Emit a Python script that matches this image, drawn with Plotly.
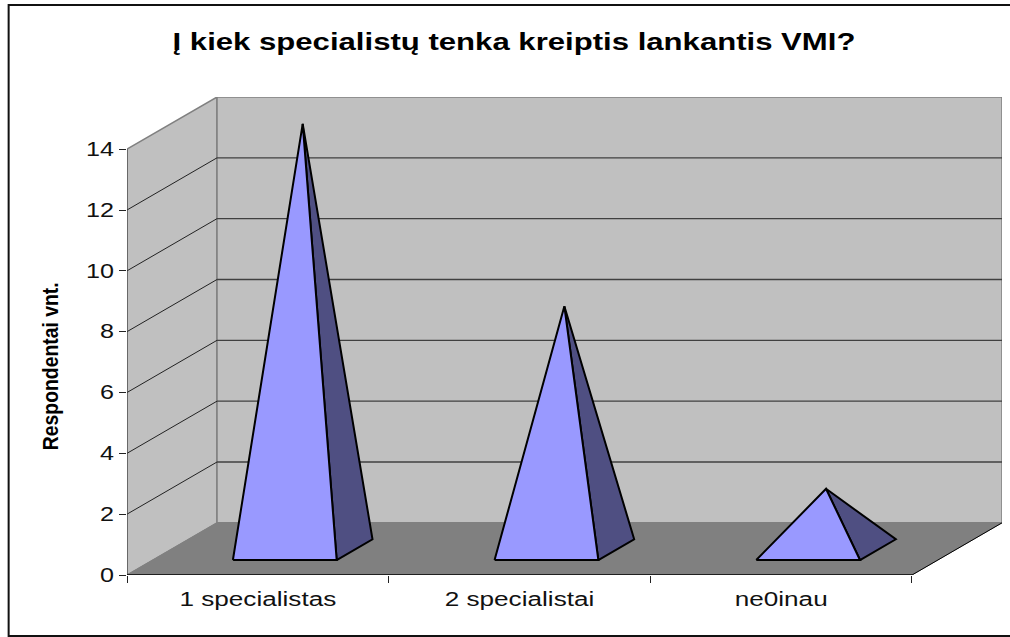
import plotly.graph_objects as go

# --- data ---
categories = ["1 specialistas", "2 specialistai", "ne0inau"]
values = [14, 8, 2]
y_ticks = [0, 2, 4, 6, 8, 10, 12, 14]
title_text = "Į kiek specialistų tenka kreiptis lankantis VMI?"
y_title = "Respondentai vnt."

# --- oblique 3D look (styles / layout only) ---
W, H = 1010, 637
L, R, T, B = 126.5, 1002.5, 97, 575      # plot box in pixels
N = len(categories)
YMAX = max(y_ticks)
DEPTH_X = 0.344                          # depth shift in category units
DEPTH_Y = 1.715                          # depth shift in value units
WALL, FLOOR = "#c0c0c0", "#808080"
FRONT, SIDE = "#9999ff", "#4f4f82"


def proj(x, y, d):
    """Oblique projection of (category pos, value, depth 0..1) to axis coords."""
    return x + d * DEPTH_X, y + d * DEPTH_Y


def poly(pts, fill=None, color="black", width=1.0):
    xs, ys = zip(*pts)
    fig.add_trace(go.Scatter(
        x=list(xs), y=list(ys), mode="lines", hoverinfo="skip", showlegend=False,
        fill="toself" if fill else None, fillcolor=fill,
        line=dict(color=color, width=width),
    ))


fig = go.Figure()

# walls and floor
poly([proj(0, 0, 0), proj(0, YMAX, 0), proj(0, YMAX, 1), proj(0, 0, 1), proj(0, 0, 0)], WALL, FLOOR, 1.5)
poly([proj(0, 0, 1), proj(0, YMAX, 1), proj(N, YMAX, 1), proj(N, 0, 1), proj(0, 0, 1)], WALL, FLOOR, 1.5)
poly([proj(0, 0, 0), proj(0, 0, 1), proj(N, 0, 1), proj(N, 0, 0), proj(0, 0, 0)], FLOOR, FLOOR, 1)

# gridlines
for v in y_ticks[1:-1]:
    poly([proj(0, v, 0), proj(0, v, 1)], color="#222222", width=1)
    poly([proj(0, v, 1), proj(N, v, 1)], color="#404040", width=1.3)

# floor outer edges and axis lines
poly([proj(N, 0, 0), proj(N, 0, 1)], color="black", width=1)
poly([proj(0, 0, 0), proj(0, YMAX, 0)], color="#404040", width=1)
poly([proj(0, 0, 0), proj(N, 0, 0)], color="black", width=1.5)

# pyramids
D0, D1 = 0.287, 0.685     # base depth extent
X0, X1 = 0.306, 0.7026    # base extent within a category
for i, v in enumerate(values):
    dc = (D0 + D1) / 2
    apex = proj(i + (X0 + X1) / 2, v, dc)
    fl, fr = proj(i + X0, 0, D0), proj(i + X1, 0, D0)
    br = proj(i + X1, 0, D1)
    poly([fr, br, apex, fr], SIDE, "black", 2)
    poly([fl, fr, apex, fl], FRONT, "black", 2)

fig.update_layout(
    width=W, height=H, autosize=False,
    margin=dict(l=L, r=W - R, t=T, b=H - B, pad=0),
    paper_bgcolor="white", plot_bgcolor="white", showlegend=False,
    font=dict(family="Liberation Sans, Arial, sans-serif", color="black"),
    title=dict(text=title_text, x=514 / W, xanchor="center",
               y=1 - 41 / H, yanchor="middle", font=dict(size=24.7, weight="bold")),
    xaxis=dict(range=[0, N + DEPTH_X], showgrid=False, zeroline=False, showline=False,
               tickmode="array", tickvals=[i + 0.5 for i in range(N)], ticktext=categories,
               ticks="", tickfont=dict(size=19.5, color="#111111"), fixedrange=True,
               ticklabelstandoff=10,
               minor=dict(tickmode="array", tickvals=list(range(N + 1)), ticks="outside",
                          ticklen=6.5, tickcolor="#222222", tickwidth=1, showgrid=False)),
    yaxis=dict(range=[0, YMAX + DEPTH_Y], showgrid=False, zeroline=False, showline=False,
               tickmode="array", tickvals=y_ticks, ticks="outside", ticklen=7,
               tickcolor="#222222", tickwidth=1, tickfont=dict(size=19.5, color="#111111"),
               fixedrange=True, ticklabelstandoff=1),
    annotations=[dict(text=y_title, textangle=-90, showarrow=False,
                      xref="paper", yref="paper",
                      x=(49 - L) / (R - L), y=(B - 366) / (B - T),
                      xanchor="center", yanchor="middle",
                      font=dict(size=22, weight="bold"))],
    shapes=[dict(type="rect", xref="paper", yref="paper",
                 x0=(8 - L) / (R - L), x1=(W + 4 - L) / (R - L),
                 y0=(B - 636) / (B - T), y1=(B - 5) / (B - T),
                 line=dict(color="#111111", width=2), fillcolor="rgba(0,0,0,0)", layer="below")],
)

# The reference's text is stretched horizontally; SVG textLength keeps it real text.
stretch = """
document.body.style.margin = '0';
function stretch(sel, f) {
  document.querySelectorAll(sel).forEach(function (t) {
    var n = t.getComputedTextLength();
    t.setAttribute('lengthAdjust', 'spacingAndGlyphs');
    t.setAttribute('textLength', n * f);
  });
}
stretch('.xtick text', 1.34);
stretch('.ytick text', 1.29);
stretch('.gtitle', 1.26);
stretch('.annotation-text', 0.88);
"""
fig.write_html("out.html", post_script=stretch, config={"displayModeBar": False})
